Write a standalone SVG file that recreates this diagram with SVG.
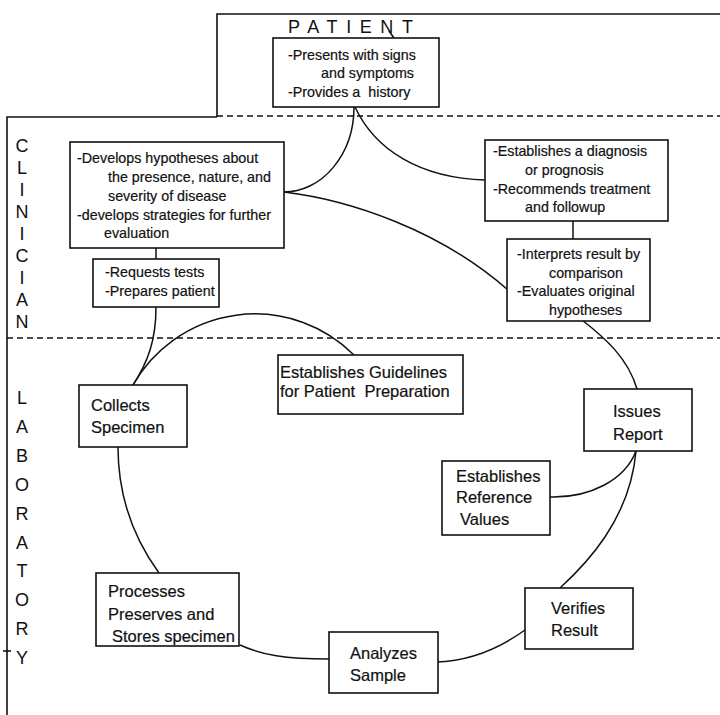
<svg xmlns="http://www.w3.org/2000/svg" width="720" height="715" viewBox="0 0 720 715">
  <style>
    .frame { fill: none; stroke: #111; stroke-width: 1.6; }
    .dash { fill: none; stroke: #111; stroke-width: 1.6; stroke-dasharray: 6 4; }
    .box { fill: #fff; stroke: #111; stroke-width: 1.6; }
    .link { fill: none; stroke: #111; stroke-width: 1.5; }
    .sm { font-family: "Liberation Sans", Arial, sans-serif; font-size: 14.3px; fill: #111; stroke: #111; stroke-width: 0.2; }
    .lg { font-family: "Liberation Sans", Arial, sans-serif; font-size: 16.5px; fill: #111; stroke: #111; stroke-width: 0.2; }
    .lane { font-family: "Liberation Sans", Arial, sans-serif; font-size: 18px; fill: #111; text-anchor: middle; }
  </style>
  <rect width="720" height="715" fill="#fff"/>

  <!-- swimlane frames -->
  <g id="lanes">
    <path class="frame" d="M217,117 V14 H720"/>
    <path class="frame" d="M7,715 V117 H217"/>
    <path class="dash" d="M217,116 H720"/>
    <path class="dash" d="M7,338 H720"/>
    <path class="frame" d="M389,31 L394,38" stroke-width="1.2"/>
    <path class="frame" d="M3,651 H11" stroke-width="1.2"/>
    <text class="lane" x="288" y="33" style="text-anchor:start" letter-spacing="8.6">PATIENT</text>
    <g>
      <text class="lane" x="22" y="152">C</text>
      <text class="lane" x="22" y="174">L</text>
      <text class="lane" x="22" y="196">I</text>
      <text class="lane" x="22" y="218">N</text>
      <text class="lane" x="22" y="240">I</text>
      <text class="lane" x="22" y="262">C</text>
      <text class="lane" x="22" y="284">I</text>
      <text class="lane" x="22" y="306">A</text>
      <text class="lane" x="22" y="328">N</text>
    </g>
    <g>
      <text class="lane" x="22" y="404">L</text>
      <text class="lane" x="22" y="433">A</text>
      <text class="lane" x="22" y="462">B</text>
      <text class="lane" x="22" y="491">O</text>
      <text class="lane" x="22" y="520">R</text>
      <text class="lane" x="22" y="549">A</text>
      <text class="lane" x="22" y="577">T</text>
      <text class="lane" x="22" y="606">O</text>
      <text class="lane" x="22" y="635">R</text>
      <text class="lane" x="22" y="664">Y</text>
    </g>
  </g>

  <!-- connectors -->
  <g id="connectors">
    <path class="link" d="M354,107 A70,85 0 0 1 284,192"/>
    <path class="link" d="M355,107 C375,150 420,178 485,180"/>
    <path class="link" d="M284,192 C350,200 440,230 508,290"/>
    <path class="link" d="M156,248 V259"/>
    <path class="link" d="M573,221 V239"/>
    <path class="link" d="M156,307 C156,340 148,362 133,385"/>
    <path class="link" d="M133,385 A140,140 0 0 1 354,355"/>
    <path class="link" d="M582,320 C605,338 628,358 637,389"/>
    <path class="link" d="M118,447 C118,500 135,540 159,573"/>
    <path class="link" d="M240,645 C262,655 285,659 329,659"/>
    <path class="link" d="M436,662 C470,661 500,648 525,630"/>
    <path class="link" d="M560,588 C585,565 630,520 636,451"/>
    <path class="link" d="M550,497 C590,498 625,480 636,451"/>
  </g>

  <!-- clinical boxes -->
  <g id="patient-box">
    <rect class="box" x="273" y="38" width="166" height="69"/>
    <text class="sm" x="288" y="60">-Presents with signs</text>
    <text class="sm" x="321" y="78">and symptoms</text>
    <text class="sm" x="288" y="97" xml:space="preserve">-Provides a  history</text>
  </g>
  <g id="hypotheses-box">
    <rect class="box" x="70" y="142" width="214" height="106"/>
    <text class="sm" x="77" y="163">-Develops hypotheses about</text>
    <text class="sm" x="108" y="182">the presence, nature, and</text>
    <text class="sm" x="108" y="201">severity of disease</text>
    <text class="sm" x="77" y="220">-develops strategies for further</text>
    <text class="sm" x="104" y="238">evaluation</text>
  </g>
  <g id="requests-box">
    <rect class="box" x="93" y="259" width="126" height="48"/>
    <text class="sm" x="105" y="277">-Requests tests</text>
    <text class="sm" x="105" y="296">-Prepares patient</text>
  </g>
  <g id="diagnosis-box">
    <rect class="box" x="485" y="140" width="183" height="81"/>
    <text class="sm" x="493" y="156">-Establishes a diagnosis</text>
    <text class="sm" x="525" y="175">or prognosis</text>
    <text class="sm" x="493" y="194">-Recommends treatment</text>
    <text class="sm" x="525" y="212">and followup</text>
  </g>
  <g id="interprets-box">
    <rect class="box" x="507" y="239" width="143" height="82"/>
    <text class="sm" x="517" y="259">-Interprets result by</text>
    <text class="sm" x="549" y="278">comparison</text>
    <text class="sm" x="517" y="296">-Evaluates original</text>
    <text class="sm" x="549" y="315">hypotheses</text>
  </g>

  <!-- laboratory boxes -->
  <g id="guidelines-box">
    <rect class="box" x="278" y="355" width="185" height="59"/>
    <text class="lg" x="280" y="378">Establishes Guidelines</text>
    <text class="lg" x="280" y="397" xml:space="preserve">for Patient  Preparation</text>
  </g>
  <g id="collects-box">
    <rect class="box" x="79" y="385" width="108" height="62"/>
    <text class="lg" x="91" y="411">Collects</text>
    <text class="lg" x="91" y="433">Specimen</text>
  </g>
  <g id="issues-box">
    <rect class="box" x="584" y="389" width="108" height="62"/>
    <text class="lg" x="613" y="417">Issues</text>
    <text class="lg" x="613" y="440">Report</text>
  </g>
  <g id="reference-box">
    <rect class="box" x="442" y="461" width="108" height="74"/>
    <text class="lg" x="456" y="482">Establishes</text>
    <text class="lg" x="456" y="503">Reference</text>
    <text class="lg" x="460" y="525">Values</text>
  </g>
  <g id="processes-box">
    <rect class="box" x="96" y="573" width="143" height="73"/>
    <text class="lg" x="108" y="597">Processes</text>
    <text class="lg" x="108" y="620">Preserves and</text>
    <text class="lg" x="112" y="642">Stores specimen</text>
  </g>
  <g id="verifies-box">
    <rect class="box" x="525" y="588" width="108" height="61"/>
    <text class="lg" x="551" y="614">Verifies</text>
    <text class="lg" x="551" y="636">Result</text>
  </g>
  <g id="analyzes-box">
    <rect class="box" x="329" y="632" width="109" height="61"/>
    <text class="lg" x="350" y="659">Analyzes</text>
    <text class="lg" x="350" y="681">Sample</text>
  </g>
</svg>
